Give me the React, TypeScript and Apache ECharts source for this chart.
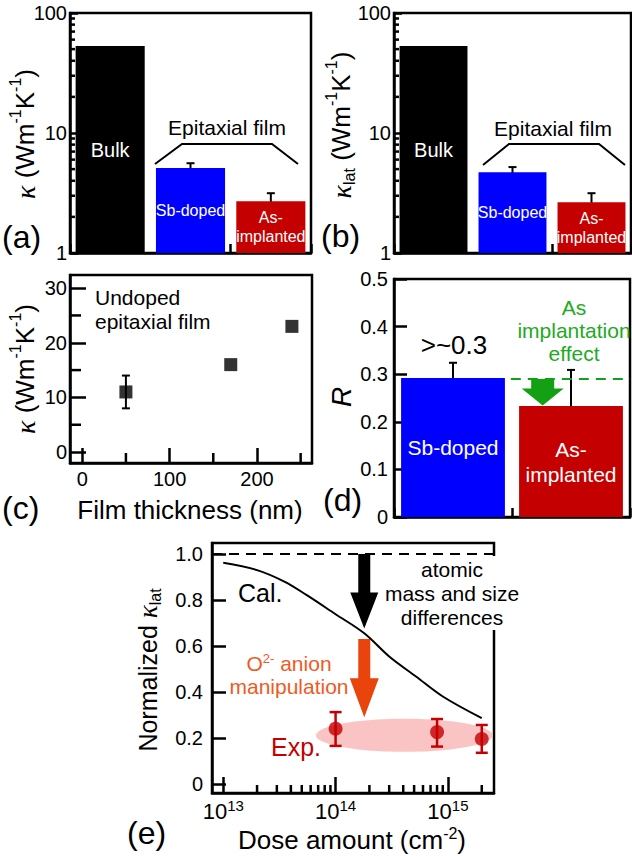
import React, { useEffect, useRef } from "react";
import * as echarts from "echarts";

const FONT = '"Liberation Sans", Arial, Helvetica, sans-serif';
const SERIF = '"Liberation Serif", "DejaVu Serif", serif';

// ---------- (a) / (b) thermal conductivity bars ----------
const sampleNames = ["Bulk", "Sb-doped", "As-implanted"];
const kappaTotal = [53, 5.1, 2.7];
const kappaTotalLow = [null, 4.5, 2.25];
const kappaTotalHigh = [null, 5.6, 3.15];
const kappaLattice = [53, 4.7, 2.65];
const kappaLatticeLow = [null, 4.55, 2.25];
const kappaLatticeHigh = [null, 5.2, 3.15];
const kappaMinorTicks = [2, 3, 4, 5, 6, 7, 8, 9, 20, 30, 40, 50, 60, 70, 80, 90];

// ---------- (c) undoped film vs thickness ----------
const filmThickness = [50, 170, 240];
const filmKappa = [11, 16, 23];
const filmKappaLow = [8, null, null];
const filmKappaHigh = [14, null, null];
const thicknessMajorTicks = [0, 100, 200];
const thicknessMinorTicks = [50, 150, 250];
const filmKappaMajorTicks = [0, 10, 20, 30];
const filmKappaMinorTicks = [5, 15, 25];

// ---------- (d) ratio R ----------
const ratioNames = ["Sb-doped", "As-implanted"];
const ratioR = [0.292, 0.233];
const ratioLow = [0.267, 0.164];
const ratioHigh = [0.324, 0.309];
const ratioReference = 0.29;
const implantEffect = [0.29, 0.234]; // from, to

// ---------- (e) normalized lattice conductivity vs dose ----------
const calDose = [1e13, 2e13, 3.5e13, 5.5e13, 1e14, 1.8e14, 3e14, 5.2e14, 9e14, 2e15];
const calKappa = [0.962, 0.93, 0.88, 0.822, 0.738, 0.655, 0.554, 0.467, 0.38, 0.286];
const expDose = [1e14, 8e14, 2e15];
const expKappa = [0.24, 0.225, 0.195];
const expLow = [0.165, 0.162, 0.135];
const expHigh = [0.312, 0.282, 0.256];
const expRegionDose = [6.7e13, 2.5e15];
const expRegionKappa = [0.139, 0.283];
const massArrow = [1.8e14, 1.0, 0.676]; // dose, from, to
const anionArrow = [1.8e14, 0.63, 0.29];
const normalizedTicks = [0, 0.2, 0.4, 0.6, 0.8, 1.0];
const doseMinorTicks = [
  2e13, 3e13, 4e13, 5e13, 6e13, 7e13, 8e13, 9e13,
  2e14, 3e14, 4e14, 5e14, 6e14, 7e14, 8e14, 9e14, 2e15,
];

const BLACK = "#000000";
const BLUE = "#0000ff";
const RED = "#c40000";
const GREEN_TEXT = "#22aa22";
const GREEN = "#13a113";
const ORANGE_TEXT = "#ef5a24";
const ORANGE = "#e8440c";
const PINK = "#fbc4c4";
const barColors = [BLACK, BLUE, RED];
const ratioColors = [BLUE, RED];
const LW = 2.5;

function errRows(lows: any[], highs: any[], xs: any[]) {
  const rows: any[] = [];
  lows.forEach((lo, i) => {
    if (lo != null && highs[i] != null) rows.push([xs[i], lo, highs[i]]);
  });
  return rows;
}

function errorBars(xi: number, yi: number, rows: any[], color: string, capHalf: number, lw: number) {
  return {
    type: "custom",
    xAxisIndex: xi,
    yAxisIndex: yi,
    silent: true,
    data: rows,
    encode: { x: 0, y: [1, 2] },
    renderItem: (params: any, api: any) => {
      const x = api.value(0);
      const a = api.coord([x, api.value(1)]);
      const b = api.coord([x, api.value(2)]);
      const st = { stroke: color, lineWidth: lw };
      return {
        type: "group",
        children: [
          { type: "line", shape: { x1: a[0], y1: a[1], x2: b[0], y2: b[1] }, style: st },
          { type: "line", shape: { x1: a[0] - capHalf, y1: a[1], x2: a[0] + capHalf, y2: a[1] }, style: st },
          { type: "line", shape: { x1: b[0] - capHalf, y1: b[1], x2: b[0] + capHalf, y2: b[1] }, style: st },
        ],
      };
    },
  };
}

function minorTicks(xi: number, yi: number, dir: "x" | "y", values: number[], len: number, other: number) {
  return {
    type: "custom",
    xAxisIndex: xi,
    yAxisIndex: yi,
    silent: true,
    data: values.map((v) => (dir === "x" ? [v, other] : [other, v])),
    encode: { x: 0, y: 1 },
    renderItem: (params: any, api: any) => {
      const cs = params.coordSys;
      const p = api.coord([api.value(0), api.value(1)]);
      const st = { stroke: BLACK, lineWidth: LW };
      if (dir === "x") {
        const yb = cs.y + cs.height;
        return { type: "line", shape: { x1: p[0], y1: yb, x2: p[0], y2: yb - len }, style: st };
      }
      return { type: "line", shape: { x1: cs.x, y1: p[1], x2: cs.x + len, y2: p[1] }, style: st };
    },
  };
}

function arrowPts(x: number, yTail: number, yTip: number, sh: number, hh: number, hl: number) {
  const yh = yTip - hl;
  return [
    [x - sh, yTail], [x + sh, yTail], [x + sh, yh], [x + hh, yh],
    [x, yTip], [x - hh, yh], [x - sh, yh],
  ];
}

function richSet(size: number, small: number, lhScale = 1.4) {
  const lh = Math.round(size * lhScale);
  return {
    n: { fontSize: size, fontFamily: FONT, lineHeight: lh, verticalAlign: "middle" },
    k: { fontSize: size + 2, fontFamily: SERIF, fontStyle: "italic", lineHeight: lh, verticalAlign: "middle" },
    sup: { fontSize: small, fontFamily: FONT, lineHeight: small, verticalAlign: "top" },
    sub: { fontSize: small, fontFamily: FONT, lineHeight: small, verticalAlign: "bottom", padding: [0, 0, 2, 0] },
  };
}

function buildOption() {
  const axisLine = { show: true, onZero: false, lineStyle: { color: BLACK, width: LW } };
  const tick = (length: number, extra: any = {}) => ({
    show: true, inside: true, length, lineStyle: { color: BLACK, width: LW }, ...extra,
  });
  const lbl = (extra: any = {}) => ({ show: true, color: BLACK, fontSize: 20, fontFamily: FONT, ...extra });
  const noSplit = { show: false };

  const gridBase = {
    show: true, borderColor: BLACK, borderWidth: LW, backgroundColor: "transparent",
    containLabel: false, outerBoundsMode: "none",
  };

  const barLabel = (lineHeight: number) => ({
    show: true, position: "inside", color: "#ffffff", fontFamily: FONT, lineHeight,
    textBorderWidth: 0,
    formatter: (p: any) => (p.name === "As-implanted" ? "As-\nimplanted" : p.name),
  });

  const kappaBars = (vals: number[], xi: number) => ({
    type: "bar",
    xAxisIndex: xi,
    yAxisIndex: xi,
    barWidth: "86%",
    data: vals.map((v, i) => ({
      value: v,
      itemStyle: { color: barColors[i] },
      label: { fontSize: i === 0 ? 20 : 16 },
    })),
    label: barLabel(19),
  });

  const logKappaLabel = () =>
    lbl({
      margin: 3,
      formatter: (v: number) => {
        const e = Math.log10(v);
        return Math.abs(e - Math.round(e)) < 0.01 ? String(Math.round(v)) : "";
      },
    });

  const graphics: any[] = [];
  const T = (x: number, y: number, text: string, style: any = {}, extra: any = {}) =>
    graphics.push({
      type: "text", x, y, z: 100, silent: true, ...extra,
      style: { text, fill: BLACK, fontFamily: FONT, fontSize: 21, align: "center", verticalAlign: "middle", ...style },
    });
  const P = (points: number[][]) =>
    graphics.push({
      type: "polyline", z: 100, silent: true, shape: { points },
      style: { stroke: BLACK, lineWidth: 2, fill: null },
    });

  const r26 = richSet(26, 16);
  const r25 = richSet(25, 16);
  // y axis titles
  T(25, 134, "{k|κ}{n| (Wm}{sup|-1}{n|K}{sup|-1}{n|)}", { rich: r26 }, { rotation: Math.PI / 2 });
  T(341, 125, "{k|κ}{sub|lat}{n| (Wm}{sup|-1}{n|K}{sup|-1}{n|)}", { rich: r26 }, { rotation: Math.PI / 2 });
  T(25, 369, "{k|κ}{n| (Wm}{sup|-1}{n|K}{sup|-1}{n|)}", { rich: r26 }, { rotation: Math.PI / 2 });
  T(341, 397, "R", { fontSize: 28, fontStyle: "italic" }, { rotation: Math.PI / 2 });
  T(148, 670, "{n|Normalized }{k|κ}{sub|lat}", { rich: r25 }, { rotation: Math.PI / 2 });
  // x axis titles
  T(190, 510, "Film thickness (nm)", { fontSize: 26 });
  T(352, 840, "{n|Dose amount (cm}{sup|-2}{n|)}", { rich: richSet(26, 16, 1.15) });
  // panel labels
  T(2, 237, "(a)", { fontSize: 32, align: "left" });
  T(321, 236, "(b)", { fontSize: 32, align: "left" });
  T(2, 508, "(c)", { fontSize: 32, align: "left" });
  T(323, 500, "(d)", { fontSize: 32, align: "left" });
  T(127, 833, "(e)", { fontSize: 32, align: "left" });
  // (a), (b) bracket annotations
  T(227, 127, "Epitaxial film");
  P([[155, 164], [182, 144], [272, 144], [298, 164]]);
  T(553, 128, "Epitaxial film");
  P([[483, 165], [509, 144], [599, 144], [625, 165]]);
  // (c)
  T(95, 285, "Undoped\nepitaxial film", { align: "left", verticalAlign: "top", lineHeight: 24 });
  // (d)
  T(454, 345, ">~0.3", { fontSize: 26 });
  T(574, 330, "As\nimplantation\neffect", { fill: GREEN_TEXT, lineHeight: 23 });
  // (e)
  T(238, 593, "Cal.", { fontSize: 25, align: "left" });
  T(452, 593, "atomic\nmass and size\ndifferences", {
    lineHeight: 24, backgroundColor: "#ffffff", padding: [1, 2, 1, 2],
  });
  T(289, 675, "{n|O}{sup|2-}{n| anion}\n{n|manipulation}", {
    fill: ORANGE_TEXT,
    rich: {
      n: { fontSize: 21, fontFamily: FONT, lineHeight: 23, verticalAlign: "middle" },
      sup: { fontSize: 13, fontFamily: FONT, lineHeight: 13, verticalAlign: "top" },
    },
  });
  T(271, 747, "Exp.", { fontSize: 25, align: "left", fill: RED });

  return {
    animation: false,
    backgroundColor: "#ffffff",
    textStyle: { fontFamily: FONT },
    grid: [
      { ...gridBase, left: 70, top: 13, width: 241, height: 240 },
      { ...gridBase, left: 394, top: 13, width: 237, height: 240 },
      { ...gridBase, left: 70, top: 275, width: 242, height: 188 },
      { ...gridBase, left: 394, top: 279, width: 236, height: 238 },
      { ...gridBase, left: 212, top: 543, width: 282, height: 250 },
    ],
    xAxis: [
      {
        type: "category", gridIndex: 0, data: sampleNames, axisLine,
        axisTick: tick(9), axisLabel: { show: false }, splitLine: noSplit,
      },
      {
        type: "category", gridIndex: 1, data: sampleNames, axisLine,
        axisTick: tick(9), axisLabel: { show: false }, splitLine: noSplit,
      },
      {
        type: "value", gridIndex: 2, min: -14, max: 263, axisLine,
        axisTick: tick(15, { customValues: thicknessMajorTicks }),
        axisLabel: lbl({ margin: 6, customValues: thicknessMajorTicks }),
        splitLine: noSplit,
      },
      {
        type: "category", gridIndex: 3, data: ratioNames, axisLine,
        axisTick: tick(9), axisLabel: { show: false }, splitLine: noSplit,
      },
      {
        type: "log", logBase: 10, gridIndex: 4, min: Math.pow(10, 12.9), max: Math.pow(10, 15.41), axisLine,
        axisTick: tick(16),
        axisLabel: {
          show: true, margin: 5, showMinLabel: false, showMaxLabel: false,
          formatter: (v: number) => {
            const e = Math.log10(v);
            const r = Math.round(e);
            return Math.abs(e - r) < 0.01 ? `{b|10}{s|${r}}` : "";
          },
          rich: {
            b: { fontSize: 22, fontFamily: FONT, color: BLACK, lineHeight: 26, verticalAlign: "middle" },
            s: { fontSize: 15, fontFamily: FONT, color: BLACK, lineHeight: 15, verticalAlign: "top" },
          },
        },
        splitLine: noSplit, minorSplitLine: noSplit,
      },
    ],
    yAxis: [
      {
        type: "log", logBase: 10, gridIndex: 0, min: 1, max: 100, axisLine,
        axisTick: tick(8), axisLabel: logKappaLabel(), splitLine: noSplit,
      },
      {
        type: "log", logBase: 10, gridIndex: 1, min: 1, max: 100, axisLine,
        axisTick: tick(8), axisLabel: logKappaLabel(), splitLine: noSplit,
      },
      {
        type: "value", gridIndex: 2, min: -2, max: 32.4, axisLine,
        axisTick: tick(16, { customValues: filmKappaMajorTicks }),
        axisLabel: lbl({ margin: 3, customValues: filmKappaMajorTicks }),
        splitLine: noSplit,
      },
      {
        type: "value", gridIndex: 3, min: 0, max: 0.5, interval: 0.1, axisLine,
        axisTick: tick(13), axisLabel: lbl({ margin: 6 }), splitLine: noSplit,
      },
      {
        type: "value", gridIndex: 4, min: -0.04, max: 1.048, axisLine,
        axisTick: tick(14, { customValues: normalizedTicks }),
        axisLabel: lbl({
          margin: 9, customValues: normalizedTicks,
          formatter: (v: number) => (Math.abs(v) < 1e-9 ? "0" : v.toFixed(1)),
        }),
        splitLine: noSplit,
      },
    ],
    series: [
      // (a)
      kappaBars(kappaTotal, 0),
      errorBars(0, 0, errRows(kappaTotalLow, kappaTotalHigh, sampleNames.map((_, i) => i)), BLACK, 4, 2),
      minorTicks(0, 0, "y", kappaMinorTicks, 5, 0),
      // (b)
      kappaBars(kappaLattice, 1),
      errorBars(1, 1, errRows(kappaLatticeLow, kappaLatticeHigh, sampleNames.map((_, i) => i)), BLACK, 4, 2),
      minorTicks(1, 1, "y", kappaMinorTicks, 5, 0),
      // (c)
      errorBars(2, 2, errRows(filmKappaLow, filmKappaHigh, filmThickness), BLACK, 4, 2),
      {
        type: "scatter", xAxisIndex: 2, yAxisIndex: 2, symbol: "rect", symbolSize: 13,
        itemStyle: { color: BLACK },
        data: filmThickness.map((t, i) => [t, filmKappa[i]]),
      },
      minorTicks(2, 2, "x", thicknessMinorTicks, 10, 10),
      minorTicks(2, 2, "y", filmKappaMinorTicks, 11, 100),
      // (d)
      {
        type: "bar", xAxisIndex: 3, yAxisIndex: 3, barWidth: "88%",
        data: ratioR.map((v, i) => ({ value: v, itemStyle: { color: ratioColors[i] } })),
        label: { ...barLabel(25), fontSize: 21 },
      },
      errorBars(3, 3, errRows(ratioLow, ratioHigh, ratioNames.map((_, i) => i)), BLACK, 4, 2),
      {
        type: "custom", xAxisIndex: 3, yAxisIndex: 3, silent: true,
        data: [[0, ratioReference]],
        encode: { x: 0, y: 1 },
        renderItem: (params: any, api: any) => {
          const cs = params.coordSys;
          const p = api.coord([0, api.value(1)]);
          const band = api.size([1, 0])[0];
          return {
            type: "line",
            shape: { x1: p[0] + 0.49 * band, y1: p[1], x2: cs.x + cs.width, y2: p[1] },
            style: { stroke: GREEN, lineWidth: 2, lineDash: [10, 7] },
          };
        },
      },
      {
        type: "custom", xAxisIndex: 3, yAxisIndex: 3, silent: true,
        data: [[1, implantEffect[0], implantEffect[1]]],
        encode: { x: 0, y: [1, 2] },
        renderItem: (params: any, api: any) => {
          const a = api.coord([1, api.value(1)]);
          const b = api.coord([1, api.value(2)]);
          const band = api.size([1, 0])[0];
          const x = a[0] - 0.24 * band;
          return {
            type: "polygon",
            shape: { points: arrowPts(x, a[1], b[1], 11.5, 21, 17) },
            style: { fill: GREEN },
          };
        },
      },
      // (e)
      {
        type: "custom", xAxisIndex: 4, yAxisIndex: 4, silent: true,
        data: [[expRegionDose[0], expRegionDose[1], expRegionKappa[0], expRegionKappa[1]]],
        encode: { x: [0, 1], y: [2, 3] },
        renderItem: (params: any, api: any) => {
          const a = api.coord([api.value(0), api.value(2)]);
          const b = api.coord([api.value(1), api.value(3)]);
          const cx = (a[0] + b[0]) / 2;
          const cy = (a[1] + b[1]) / 2;
          const rx = Math.abs(b[0] - a[0]) / 2;
          const ry = Math.abs(b[1] - a[1]) / 2;
          const pts: number[][] = [];
          for (let k = 0; k < 90; k++) {
            const t = (k / 90) * Math.PI * 2;
            pts.push([cx + rx * Math.cos(t), cy + ry * Math.sin(t)]);
          }
          return { type: "polygon", shape: { points: pts }, style: { fill: PINK } };
        },
      },
      {
        type: "line", xAxisIndex: 4, yAxisIndex: 4, smooth: 0.35, showSymbol: false, silent: true,
        lineStyle: { color: BLACK, width: 2 },
        data: calDose.map((d, i) => [d, calKappa[i]]),
        markLine: {
          silent: true, symbol: "none", label: { show: false },
          lineStyle: { color: BLACK, width: 2, type: [10, 7] },
          data: [{ yAxis: 1.0 }],
        },
      },
      {
        type: "custom", xAxisIndex: 4, yAxisIndex: 4, silent: true,
        data: [massArrow, anionArrow],
        encode: { x: 0, y: [1, 2] },
        renderItem: (params: any, api: any) => {
          const a = api.coord([api.value(0), api.value(1)]);
          const b = api.coord([api.value(0), api.value(2)]);
          const isMass = params.dataIndex === 0;
          return {
            type: "polygon",
            shape: { points: arrowPts(a[0], a[1], b[1], 6, isMass ? 14 : 14.5, isMass ? 36 : 39) },
            style: { fill: isMass ? BLACK : ORANGE },
          };
        },
      },
      errorBars(4, 4, errRows(expLow, expHigh, expDose), RED, 6, 2.5),
      {
        type: "scatter", xAxisIndex: 4, yAxisIndex: 4, symbol: "circle", symbolSize: 14,
        itemStyle: { color: RED },
        data: expDose.map((d, i) => [d, expKappa[i]]),
      },
      minorTicks(4, 4, "x", doseMinorTicks, 8, 0.5),
    ],
    graphic: graphics,
  };
}

export default function App() {
  const ref = useRef<HTMLDivElement>(null);
  useEffect(() => {
    if (!ref.current) return;
    const chart = echarts.init(ref.current, null, { renderer: "svg" });
    chart.setOption(buildOption() as any);
    return () => chart.dispose();
  }, []);
  return (
    <div
      ref={ref}
      style={{ position: "absolute", left: 0, top: 0, width: 632, height: 856, background: "#ffffff" }}
    />
  );
}
